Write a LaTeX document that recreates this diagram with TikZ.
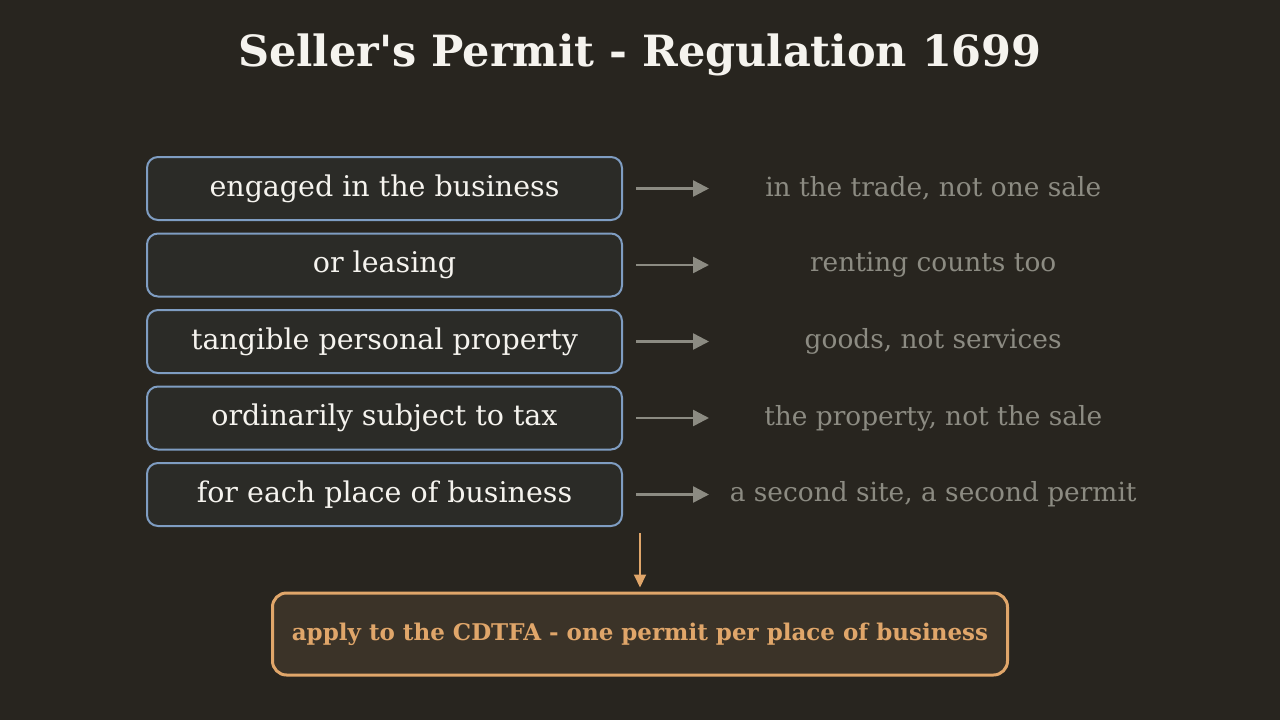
\documentclass[tikz,border=0pt]{standalone}
\usepackage{fontspec}
\setmainfont{DejaVu Serif}[Ligatures=TeXOff]
\usetikzlibrary{positioning,arrows.meta}
\definecolor{bgdark}{HTML}{28251F}
\definecolor{boxfill}{HTML}{2B2B27}
\definecolor{boxline}{HTML}{7F9DC2}
\definecolor{notegray}{HTML}{8C8B82}
\definecolor{paleText}{HTML}{F5F3EE}
\definecolor{applyline}{HTML}{E0A66A}
\definecolor{applyfill}{HTML}{3B3328}

\begin{document}
\begin{tikzpicture}[x=1pt,y=-1pt,
term/.style={draw=boxline,fill=boxfill,rectangle,rounded corners=11pt,line width=2pt,
    minimum width=475pt,minimum height=63pt,text=paleText,
    font=\fontsize{28.5}{32}\selectfont},
note/.style={minimum width=448pt,text=notegray,font=\fontsize{26.4}{30}\selectfont},
arr/.style={draw=notegray,line width=2.5pt,-{Triangle[length=16pt,width=16pt]},shorten <=13pt}]
\useasboundingbox[fill=bgdark] (0,0) rectangle (1280,720);
\node (title) at (640,55) [text=paleText,font=\bfseries\fontsize{43}{48}\selectfont]
    {Seller's Permit - Regulation 1699};

\node (busy) at (384.5,188.5) [term] {engaged in the business};
\node (lease) [term,below=11.5pt of busy] {or leasing};
\node (goods) [term,below=11.5pt of lease] {tangible personal property};
\node (taxed) [term,below=11.5pt of goods] {ordinarily subject to tax};
\node (place) [term,below=11.5pt of taxed] {for each place of business};

\node (nbusy) [note,right=86pt of busy] {in the trade, not one sale};
\node (nlease) [note,right=86pt of lease] {renting counts too};
\node (ngoods) [note,right=86pt of goods] {goods, not services};
\node (ntaxed) [note,right=86pt of taxed] {the property, not the sale};
\node (nplace) [note,right=86pt of place] {a second site, a second permit};

\draw [arr] (busy) -- (nbusy);
\draw [arr] (lease) -- (nlease);
\draw [arr] (goods) -- (ngoods);
\draw [arr] (taxed) -- (ntaxed);
\draw [arr] (place) -- (nplace);

\node (apply) at (640,634) [draw=applyline,fill=applyfill,rounded corners=14pt,line width=3pt,
    minimum width=735pt,minimum height=82pt,text=applyline,
    font=\bfseries\fontsize{23}{27}\selectfont]
    {apply to the CDTFA - one permit per place of business};
\coordinate (drop) at (640,533);
\draw [draw=applyline,line width=2pt,-{Triangle[length=13pt,width=12pt]},shorten >=4pt] (drop) -- (apply);
\end{tikzpicture}
\end{document}
